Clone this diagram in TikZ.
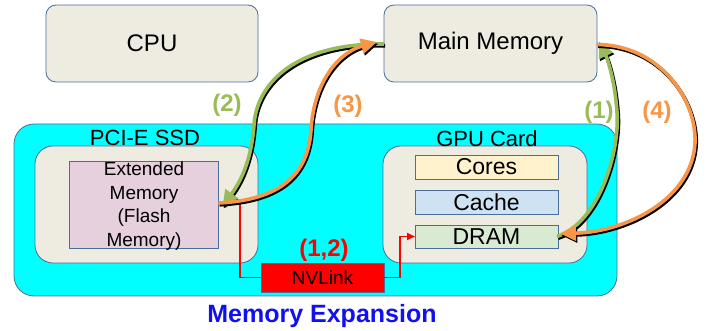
\documentclass[tikz,border=0pt]{standalone}
\usepackage{fontspec}
\setmainfont{Liberation Sans}
\usetikzlibrary{arrows.meta}
\definecolor{boxfill}{HTML}{EEECE1}
\definecolor{boxline}{HTML}{4A6E9A}
\definecolor{cyanfill}{HTML}{00FFFF}
\definecolor{extfill}{HTML}{E6D0DE}
\definecolor{corefill}{HTML}{FFF2CC}
\definecolor{cachefill}{HTML}{CFE2F3}
\definecolor{dramfill}{HTML}{D9EAD3}
\definecolor{grn}{HTML}{9BBB59}
\definecolor{org}{HTML}{F79646}
\definecolor{nvred}{HTML}{FF0000}
\definecolor{expblue}{HTML}{1010F0}
\tikzset{
  rbox/.style={draw=boxline, line width=0.8pt, fill=boxfill, inner sep=0pt, outer sep=0pt},
  membox/.style={draw=boxline, line width=0.8pt, inner sep=0pt, outer sep=0pt, minimum width=143pt, minimum height=24pt, font=\fontsize{23}{26}\selectfont},
  lbl/.style={inner sep=0pt, font=\fontsize{24}{28}\selectfont\bfseries},
  flow/.style={line width=3.6pt, -{Triangle[length=16pt,width=15pt]}},
  redline/.style={draw=nvred, line width=1.8pt, -{Triangle[length=8pt,width=7pt]}},
}
\newcommand\shadowflow[2]{%
  \begin{scope}[transform canvas={xshift=1.2pt,yshift=-1.8pt}]\draw[flow, draw=black] #2;\end{scope}
  \draw[flow, draw=#1] #2;}
\begin{document}
\begin{tikzpicture}[x=1pt,y=-1pt]
\useasboundingbox (0,0) rectangle (713,331);
% top boxes
\node[rbox, rounded corners=10pt, minimum width=212pt, minimum height=77pt, font=\fontsize{24}{28}\selectfont] (cpu) at (152,43.5) {CPU};
\node[rbox, rounded corners=10pt, minimum width=213pt, minimum height=77pt, font=\fontsize{24}{28}\selectfont] (mm) at (490.5,43.5) {Main Memory};
% expansion area
\node[draw=boxline, line width=0.8pt, fill=cyanfill, rounded corners=20pt, inner sep=0pt, minimum width=603pt, minimum height=172pt] (exp) at (315.5,210) {};
\node[rbox, rounded corners=18pt, minimum width=223pt, minimum height=117pt] (ssd) at (146.5,204.5) {};
\node[rbox, rounded corners=18pt, minimum width=204pt, minimum height=117pt] (gpu) at (485,204.5) {};
\node[inner sep=0pt, font=\fontsize{22}{26}\selectfont] (ssdlbl) at (145,138) {PCI-E SSD};
\node[inner sep=0pt, font=\fontsize{22}{26}\selectfont] (gpulbl) at (487,139) {GPU Card};
\node[draw=boxline, line width=0.8pt, fill=extfill, inner sep=0pt, minimum width=149pt, minimum height=87pt] (ext) at (143.5,204.5) {};
\node[inner sep=0pt, align=center, font=\fontsize{19}{23.5}\selectfont] (exttxt) at (144,206) {Extended\\Memory\\ (Flash\\Memory)};
\node[membox, fill=corefill] (cores) at (486.5,167) {Cores};
\node[membox, fill=cachefill] (cache) at (486.5,202) {Cache};
\node[membox, fill=dramfill, minimum height=23pt] (dram) at (486.5,236.5) {DRAM};
% NVLink
\node[draw=boxline, line width=0.8pt, fill=nvred, inner sep=0pt, minimum width=123pt, minimum height=29pt, font=\fontsize{19}{22}\selectfont] (nv) at (322.5,277.5) {NVLink};
\coordinate (nvl) at (240,277.5);
\coordinate (nvr) at (400,277.5);
\draw[redline] (nv.west) -- (nvl) |- ([yshift=0.5pt]ext.east);
\draw[redline] (nv.east) -- (nvr) |- (dram.west);
\node[lbl, text=nvred] (l12) at (324,250) {(1,2)};
% flows
\shadowflow{grn}{([yshift=-0.5pt]mm.west) .. controls (300,43) and (257,80) .. (254,125) .. controls (251,165) and (238,185) .. ([xshift=4pt,yshift=-2pt]ext.east)}
\shadowflow{org}{([yshift=1.5pt]ext.east) .. controls (280,200) and (308,175) .. (311,130) .. controls (314,80) and (340,52) .. ([xshift=-7pt,yshift=1.5pt]mm.west)}
\shadowflow{grn}{([xshift=-1pt]dram.east) .. controls (600,222) and (620,150) .. (617,112) .. controls (615,82) and (608,60) .. ([xshift=2pt,yshift=2pt]mm.east)}
\shadowflow{org}{([yshift=-1pt]mm.east) .. controls (660,45) and (697,100) .. (695,143) .. controls (692,200) and (625,232) .. ([xshift=2pt,yshift=3pt]dram.east)}
% labels
\node[lbl, text=grn] (l2) at (227,105) {(2)};
\node[lbl, text=org] (l3) at (348,106) {(3)};
\node[lbl, text=grn] (l1) at (599,112) {(1)};
\node[lbl, text=org] (l4) at (657,112) {(4)};
\node[inner sep=0pt, text=expblue, font=\fontsize{25}{30}\selectfont\bfseries] (mexp) at (322,316) {Memory Expansion};
\end{tikzpicture}
\end{document}
